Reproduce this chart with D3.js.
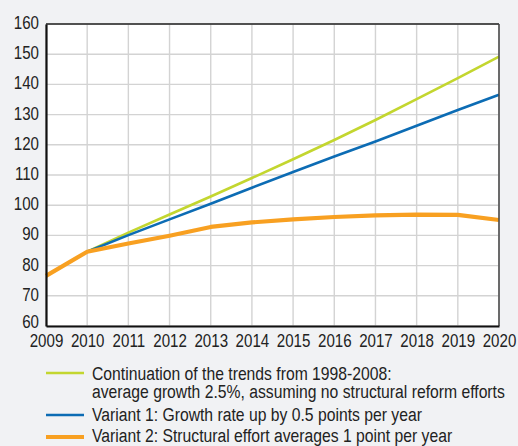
<!DOCTYPE html>
<html>
<head>
<meta charset="utf-8">
<script src="https://cdn.jsdelivr.net/npm/d3@7"></script>
<style>
  body { margin: 0; background: #f1f2f4; }
  svg text { font-family: "Liberation Sans", Arial, sans-serif; fill: #222; }
</style>
</head>
<body>
<svg id="chart" width="518" height="446"></svg>
<script>
// years on the x axis
const years = [2009, 2010, 2011, 2012, 2013, 2014, 2015, 2016, 2017, 2018, 2019, 2020];
const yTicks = [60, 70, 80, 90, 100, 110, 120, 130, 140, 150, 160];

// trend lines start in 2010, orange starts 2009
const trendYears = [2010, 2011, 2012, 2013, 2014, 2015, 2016, 2017, 2018, 2019, 2020];
const trendValues = [84.6, 90.9, 96.9, 102.9, 109.0, 115.2, 121.6, 128.2, 135.1, 142.1, 149.2];
const variant1Values = [84.6, 90.1, 95.3, 100.5, 105.8, 111.0, 116.1, 121.1, 126.3, 131.5, 136.6];
const variant2Values = [76.6, 84.6, 87.3, 89.9, 92.8, 94.3, 95.3, 96.1, 96.6, 96.9, 96.8, 95.1];

const legendLabels = [
    ["Continuation of the trends from 1998-2008:", "average growth 2.5%, assuming no structural reform efforts"],
    ["Variant 1: Growth rate up by 0.5 points per year"],
    ["Variant 2: Structural effort averages 1 point per year"]
];

let series = [
    {name: "trend", x: trendYears, y: trendValues, color: "#c3d62f", width: 2.6},
    {name: "v1", x: trendYears, y: variant1Values, color: "#0c6cb4", width: 2.6},
    {name: "v2", x: years, y: variant2Values, color: "#f8a021", width: 4.2}
];

// the original uses a narrow font, so squeeze the text horizontally
let squeeze = 0.84;
let legendSqueeze = 0.85;

let svg = d3.select("#chart"),
    margin = {top: 24, right: 19, bottom: 120, left: 46},
    width = +svg.attr("width") - margin.left - margin.right,
    height = +svg.attr("height") - margin.top - margin.bottom;

let xScale = d3.scaleLinear().domain([2009, 2020]).range([0, width]);
let yScale = d3.scaleLinear().domain([60, 160]).range([height, 0]);

let g = svg.append("g").attr("transform", "translate(" + margin.left + "," + margin.top + ")");

g.append("rect").attr("width", width).attr("height", height).attr("fill", "#fff");

// grid
g.append("g").selectAll("line").data(years).enter().append("line")
    .attr("x1", d => xScale(d)).attr("x2", d => xScale(d))
    .attr("y1", 0).attr("y2", height)
    .attr("stroke", "#d3d3d3").attr("stroke-width", 1.4);
g.append("g").selectAll("line").data(yTicks).enter().append("line")
    .attr("x1", 0).attr("x2", width)
    .attr("y1", d => yScale(d)).attr("y2", d => yScale(d))
    .attr("stroke", "#d3d3d3").attr("stroke-width", 1.4);

// lines
let line = d3.line().x(d => xScale(d[0])).y(d => yScale(d[1]));
series.forEach(function (s) {
    g.append("path")
        .datum(s.x.map((x, i) => [x, s.y[i]]))
        .attr("fill", "none")
        .attr("stroke", s.color)
        .attr("stroke-width", s.width)
        .attr("stroke-linejoin", "round")
        .attr("d", line);
});

// frame
g.append("line").attr("x1", 0).attr("x2", width).attr("y1", 0).attr("y2", 0).attr("stroke", "#222").attr("stroke-width", 1.5);
g.append("line").attr("x1", width).attr("x2", width).attr("y1", 0).attr("y2", height).attr("stroke", "#444").attr("stroke-width", 1.5);

// axes
let xAxis = d3.axisBottom(xScale).tickValues(years).tickFormat(d3.format("d")).tickSize(0).tickPadding(8);
let yAxis = d3.axisLeft(yScale).tickValues(yTicks).tickSize(0).tickPadding(7);

let gx = g.append("g").attr("transform", "translate(0," + height + ")").call(xAxis);
let gy = g.append("g").call(yAxis);
[gx, gy].forEach(a => {
    a.select(".domain").attr("stroke", "#111").attr("stroke-width", 2.2);
    a.selectAll("text").style("font-size", "18px").attr("fill", "#222")
        .attr("transform", "scale(" + squeeze + ",1)");
});
gy.selectAll("text")
    .attr("x", -7 / squeeze)
    .attr("dy", d => d === 60 ? "0.1em" : "0.25em");

// legend
let legend = svg.append("g").attr("transform", "translate(46,0)");
let rowY = [373, 415, 437];
let textY = [380, 421, 442];
legendLabels.forEach(function (lines, i) {
    legend.append("line")
        .attr("x1", 0).attr("x2", 38)
        .attr("y1", rowY[i]).attr("y2", rowY[i])
        .attr("stroke", series[i].color).attr("stroke-width", i === 2 ? 4 : 2.6);
    lines.forEach(function (t, j) {
        legend.append("text")
            .attr("transform", "translate(46," + (textY[i] + j * 18) + ") scale(" + legendSqueeze + ",1)")
            .style("font-size", "18.5px")
            .text(t);
    });
});
</script>
</body>
</html>
